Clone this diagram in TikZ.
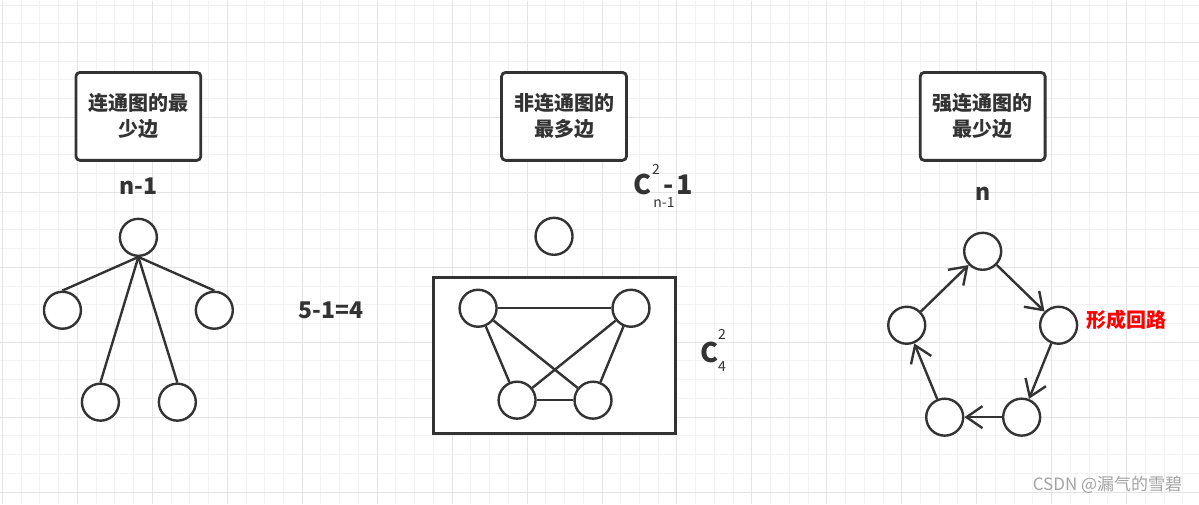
\documentclass[tikz,border=0pt]{standalone}
\usepackage{fontspec}
\setmainfont{Noto Sans CJK SC}
\usetikzlibrary{arrows.meta}
\definecolor{linec}{HTML}{333333}
\definecolor{gridminor}{HTML}{F2F2F2}
\definecolor{gridmajor}{HTML}{E4E4E4}
\definecolor{markc}{HTML}{A3A3A3}

\begin{document}
\begin{tikzpicture}[x=0.5pt, y=-0.5pt]
		\tikzstyle{vertex}=[circle, draw=linec, fill=white, line width=1.2pt, minimum size=18.5pt, inner sep=0pt];
		\tikzstyle{titlebox}=[draw=linec, fill=white, rounded corners=2pt, line width=1.4pt, minimum width=62.5pt, minimum height=44pt, align=center, text=linec, font=\fontsize{10}{13}\selectfont\bfseries];
		\tikzstyle{formula}=[text=linec, inner sep=0pt, font=\fontsize{11.5}{14}\selectfont\bfseries];
		\tikzstyle{bigc}=[text=linec, inner sep=0pt, anchor=base, font=\fontsize{13.5}{16}\selectfont\bfseries];
		\tikzstyle{index}=[text=linec, inner sep=0pt, font=\fontsize{7}{8}\selectfont];
		\tikzstyle{edge}=[draw=linec, line width=1.2pt];
		\tikzstyle{arc}=[edge, -{Straight Barb[length=8pt, width=11pt]}];

		% grid
		\fill[white] (0,0) rectangle (1199,504);
		\foreach \k in {0,...,63}
			\draw[gridminor, line width=0.5pt] ({2+18.75*\k},0) -- ({2+18.75*\k},504);
		\foreach \k in {0,...,26}
			\draw[gridminor, line width=0.5pt] (0,{4.5+18.75*\k}) -- (1199,{4.5+18.75*\k});
		\foreach \k in {0,...,15}
			\draw[gridmajor, line width=0.5pt] ({2+75*\k},0) -- ({2+75*\k},504);
		\foreach \k in {0,...,6}
			\draw[gridmajor, line width=0.5pt] (0,{42+75*\k}) -- (1199,{42+75*\k});

		% connected graph, fewest edges
		\node[titlebox] (box1) at (138,116) {连通图的最\\少边};
		\node[formula] (least) at (138,186) {n-1};
		\node[vertex] (root) at (138,237) {};
		\node[vertex] (ta) at (62,310) {};
		\node[vertex] (tb) at (214,310) {};
		\node[vertex] (tc) at (100,402) {};
		\node[vertex] (td) at (177,402) {};
		\foreach \c in {ta,tb,tc,td}
			\draw[edge] (root.south) -- (\c.north);
		\node[formula] (count) at (331,310) {5-1=4};

		% not connected, most edges
		\node[titlebox] (box2) at (564,116) {非连通图的\\最多边};
		\node[bigc] (ca) at (643,194) {C};
		\node[index] (casup) at (656,169) {2};
		\node[index] (casub) at (664,202) {n-1};
		\node[bigc] (caminus) at (669,194) {-};
		\node[bigc] (caone) at (685,194) {1};
		\node[vertex] (lone) at (554,236) {};
		\draw[linec, fill=white, line width=1.5pt] (433,277) rectangle (676,433);
		\node[vertex] (ka) at (478,308) {};
		\node[vertex] (kb) at (631,308) {};
		\node[vertex] (kc) at (517,400) {};
		\node[vertex] (kd) at (593,400) {};
		\draw[edge] (ka) -- (kb);
		\draw[edge] (ka) -- (kc);
		\draw[edge] (ka) -- (kd);
		\draw[edge] (kb) -- (kc);
		\draw[edge] (kb) -- (kd);
		\draw[edge] (kc) -- (kd);
		\node[bigc] (cb) at (710,362) {C};
		\node[index] (cbsup) at (722,334) {2};
		\node[index] (cbsub) at (722,366) {4};

		% strongly connected, fewest edges
		\node[titlebox] (box3) at (983,116) {强连通图的\\最少边};
		\node[formula] (n) at (983,193) {n};
		\node[vertex] (sa) at (983,251) {};
		\node[vertex] (sb) at (1059,325) {};
		\node[vertex] (sc) at (1022,417) {};
		\node[vertex] (sd) at (945,417) {};
		\node[vertex] (se) at (907,325) {};
		\draw[arc] (se) -- (sa);
		\draw[arc] (sa) -- (sb);
		\draw[arc] (sb) -- (sc);
		\draw[arc] (sc) -- (sd);
		\draw[arc] (sd) -- (se);
		\node[text=red, inner sep=0pt, font=\fontsize{10}{12}\selectfont\bfseries] (loop) at (1127,320) {形成回路};

		\node[text=markc, inner sep=0pt, anchor=east, font=\fontsize{8.5}{10}\selectfont] (mark) at (1183,485) {CSDN @漏气的雪碧};
\end{tikzpicture}
\end{document}
